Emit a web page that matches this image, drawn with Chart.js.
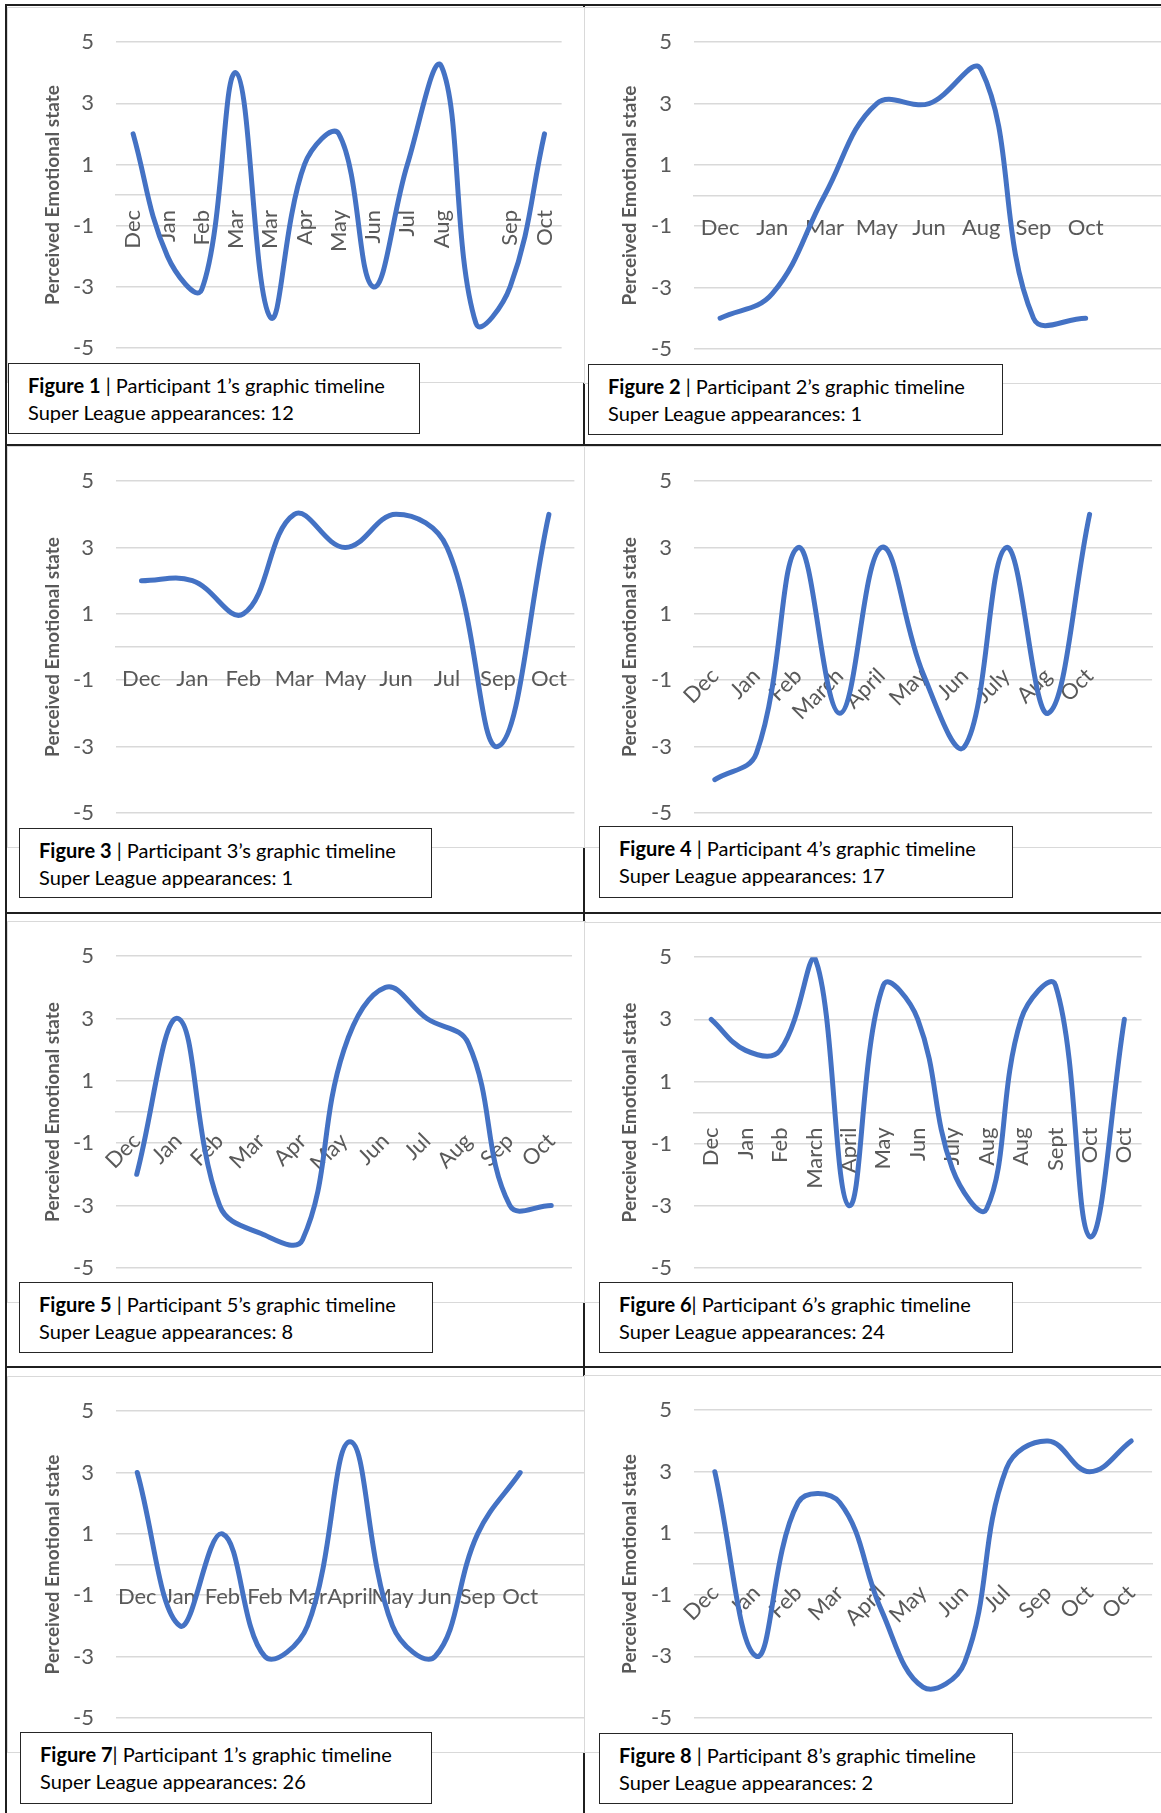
<!DOCTYPE html>
<html>
<head>
<meta charset="utf-8">
<script src="https://cdn.jsdelivr.net/npm/chart.js@4.4.0/dist/chart.umd.min.js"></script>
<style>
    html, body { margin: 0; padding: 0; background: #fff; overflow: hidden; }
    #page { position: relative; width: 1161px; height: 1813px; overflow: hidden; }
    .rule { position: absolute; background: #1f1f1f; }
    .box { position: absolute; box-sizing: border-box; background: #fff; border: 1.3px solid #d9d9d9; }
    canvas { position: absolute; }
    .cap {
        position: absolute; box-sizing: border-box; background: #fff;
        border: 1.5px solid #262626; color: #000; white-space: nowrap;
        font-family: Lato, sans-serif; font-size: 20px; line-height: 27px;
        padding: 8px 0 0 19px;
    }
</style>
</head>
<body>
<div id="page"></div>
<script>
// categories and perceived emotional state per figure
const labels1 = ["Dec", "Jan", "Feb", "Mar", "Mar", "Apr", "May", "Jun", "Jul", "Aug", "", "Sep", "Oct"];
const values1 = [2, -2, -3.1, 4, -4, 1, 2, -3, 1, 4.2, -4.2, -3, 2];

const labels2 = ["Dec", "Jan", "Mar", "May", "Jun", "Aug", "Sep", "Oct", ""];
const values2 = [-4, -3.2, 0, 3, 3, 4.1, -4, -4, null];

const labels3 = ["Dec", "Jan", "Feb", "Mar", "May", "Jun", "Jul", "Sep", "Oct"];
const values3 = [2, 2, 1, 4, 3, 4, 3, -3, 4];

const labels4 = ["Dec", "Jan", "Feb", "March", "April", "May", "Jun", "July", "Aug", "Oct", ""];
const values4 = [-4, -3.2, 3, -2, 3, -0.8, -3, 3, -2, 4, null];

const labels5 = ["Dec", "Jan", "Feb", "Mar", "Apr", "May", "Jun", "Jul", "Aug", "Sep", "Oct"];
const values5 = [-2, 3, -3, -3.9, -4.1, 2, 4, 3, 2.2, -3, -3];

const labels6 = ["Dec", "Jan", "Feb", "March", "April", "May", "Jun", "July", "Aug", "Aug", "Sept", "Oct", "Oct"];
const values6 = [3, 2, 2, 5, -3, 4.1, 3, -1.8, -3.1, 3, 4.1, -4, 3];

const labels7 = ["Dec", "Jan", "Feb", "Feb", "Mar", "April", "May", "Jun", "Sep", "Oct", ""];
const values7 = [3, -2, 1, -3, -2, 4, -2, -3, 1, 3, null];

const labels8 = ["Dec", "Jan", "Feb", "Mar", "April", "May", "Jun", "Jul", "Sep", "Oct", "Oct"];
const values8 = [3, -3, 2, 2, -1.5, -4, -3.2, 3.1, 4, 3, 4];

const yTicks = [-5, -3, -1, 1, 3, 5];
const yTitle = "Perceived Emotional state";

const figureNo = [1, 2, 3, 4, 5, 6, 7, 8];
const participantNo = [1, 2, 3, 4, 5, 6, 1, 8];
const appearances = [12, 1, 1, 17, 8, 24, 26, 2];
const tightBar = [false, false, false, false, false, true, true, false];

const allLabels = [labels1, labels2, labels3, labels4, labels5, labels6, labels7, labels8];
const allValues = [values1, values2, values3, values4, values5, values6, values7, values8];

// layout: chart box [x, y, w, h], plot area inside it [left, right, top, bottom]
const boxes = [
    [7, 7, 579, 376], [584, 7, 582, 377],
    [7, 446, 579, 402], [584, 446, 582, 402],
    [7, 921, 579, 382], [584, 922, 582, 381],
    [7, 1376, 579, 377], [584, 1375, 582, 378]
];
const plots = [
    [109, 576, 27.3, 346.3], [110, 580, 27.3, 346.3],
    [109, 576, 29.7, 371.7], [110, 580, 28.3, 372.3],
    [109, 577, 31.3, 351.3], [110, 576, 31.3, 350.3],
    [109, 577, 29.7, 348.3], [110, 580, 29.3, 348.3]
];
const captions = [
    [8, 363, 412, 71], [588, 364, 415, 71],
    [19, 828, 413, 70], [599, 826, 414, 72],
    [19, 1282, 414, 71], [599, 1282, 414, 71],
    [20, 1732, 412, 72], [599, 1733, 414, 71]
];
const rotations = [90, 0, 0, 45, 45, 90, 0, 45];
const rules = [
    [5, 4, 1156, 2], [5, 4, 2, 1809], [583, 4, 2, 1809],
    [5, 443.5, 1156, 2], [5, 911.7, 1156, 2], [5, 1365.7, 1156, 2]
];

const page = document.getElementById("page");

function place(el, r) {
    el.style.left = r[0] + "px";
    el.style.top = r[1] + "px";
    el.style.width = r[2] + "px";
    el.style.height = r[3] + "px";
}

rules.forEach(r => {
    const d = document.createElement("div");
    d.className = "rule";
    place(d, r);
    page.appendChild(d);
});

const gray = "#595959";
const grid = "#d9d9d9";
const titlePad = 29;

allLabels.forEach((labels, i) => {
    const [bx, by, bw, bh] = boxes[i];
    const [pl, pr, pt, pb] = plots[i];
    const rot = rotations[i];

    const box = document.createElement("div");
    box.className = "box";
    place(box, boxes[i]);
    page.appendChild(box);

    const canvas = document.createElement("canvas");
    canvas.width = bw;
    canvas.height = bh;
    canvas.style.left = bx + "px";
    canvas.style.top = by + "px";
    page.appendChild(canvas);

    new Chart(canvas, {
        type: "line",
        data: {
            labels: labels,
            datasets: [{
                data: allValues[i],
                borderColor: "#4472C4",
                borderWidth: 5,
                borderCapStyle: "round",
                borderJoinStyle: "round",
                pointRadius: 0,
                tension: 0.4,
                fill: false
            }]
        },
        options: {
            responsive: false,
            animation: false,
            devicePixelRatio: 1,
            layout: {
                autoPadding: false,
                padding: { left: titlePad, right: bw - pr, top: pt, bottom: bh - pb }
            },
            plugins: { legend: { display: false }, tooltip: { enabled: false } },
            scales: {
                x: {
                    type: "category",
                    offset: true,
                    position: { y: 0 },
                    grid: { display: false, drawTicks: false },
                    border: { display: true, color: grid, width: 1.5 },
                    ticks: {
                        autoSkip: false,
                        minRotation: rot,
                        maxRotation: rot,
                        padding: rot === 90 ? 15 : (rot === 45 ? 16 : 19),
                        color: gray,
                        font: { family: "Lato", size: 22 }
                    }
                },
                y: {
                    min: yTicks[0],
                    max: yTicks[yTicks.length - 1],
                    position: "left",
                    afterFit: s => { s.width = pl - titlePad; },
                    ticks: {
                        stepSize: 2,
                        padding: 22,
                        color: gray,
                        font: { family: "Lato", size: 22 }
                    },
                    grid: { color: grid, lineWidth: 1.5, drawTicks: false },
                    border: { display: false },
                    title: {
                        display: true,
                        text: yTitle,
                        color: gray,
                        font: { family: "Lato", size: 19, weight: "bold" },
                        padding: { top: 5, bottom: 0 }
                    }
                }
            }
        }
    });

    const cap = document.createElement("div");
    cap.className = "cap";
    place(cap, captions[i]);
    const sep = tightBar[i] ? "| " : " | ";
    cap.innerHTML = "<b>Figure " + figureNo[i] + "</b>" + sep + "Participant " + participantNo[i] +
        "\u2019s graphic timeline<br>Super League appearances: " + appearances[i];
    page.appendChild(cap);
});
</script>
</body>
</html>
